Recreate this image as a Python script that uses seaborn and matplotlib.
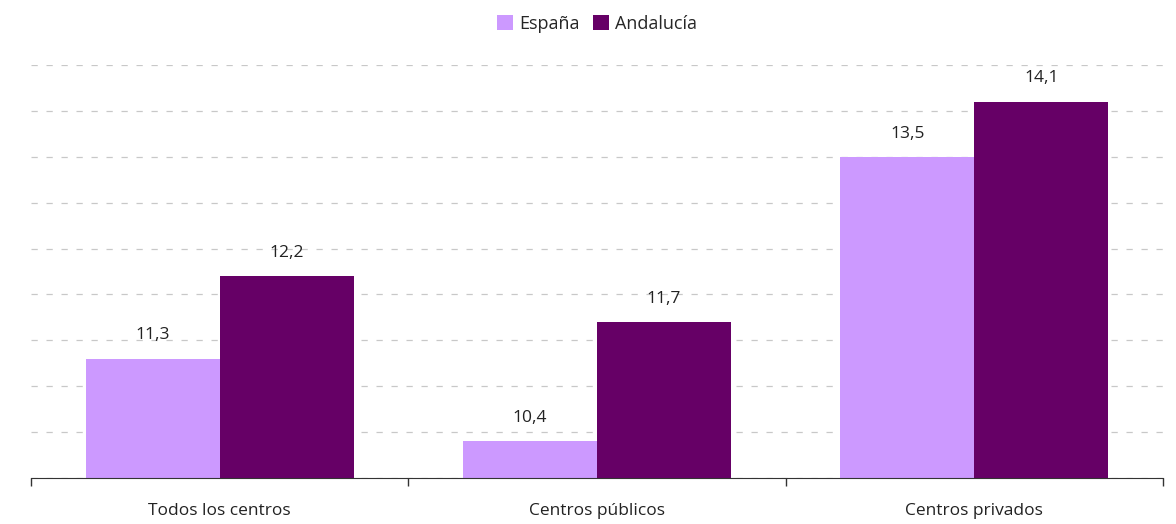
import pandas as pd
import matplotlib.pyplot as plt
import seaborn as sns

categorias = ['Todos los centros', 'Centros públicos', 'Centros privados']
espana = [11.3, 10.4, 13.5]
andalucia = [12.2, 11.7, 14.1]
series = ['España', 'Andalucía']
colores = ['#CC99FF', '#660066']

df = pd.DataFrame({
    'categoria': categorias * 2,
    'valor': espana + andalucia,
    'serie': [series[0]] * 3 + [series[1]] * 3,
})

sns.set_style('white')
plt.rcParams['font.family'] = ['Open Sans', 'DejaVu Sans']

fig = plt.figure(figsize=(11.76, 5.24), dpi=100)
ax = fig.add_axes([31 / 1176, 46 / 524, 1132 / 1176, 413 / 524])

sns.barplot(data=df, x='categoria', y='valor', hue='serie', palette=colores,
            width=0.71, saturation=1, linewidth=0, ax=ax, legend=True)

ax.set_ylim(10, 14.5)
ax.set_xlim(-0.5, 2.5)
ax.set_yticks([10 + 0.5 * i for i in range(10)])
ax.yaxis.grid(True, color='#c8c8c8', linestyle=(0, (5, 7)), linewidth=0.9)
ax.set_axisbelow(True)
ax.tick_params(axis='y', left=False, labelleft=False)

ax.set_xticks(range(3))
ax.set_xticklabels(categorias, fontsize=12.5, color='#222222')
ax.set_xticks([-0.5, 0.5, 1.5, 2.5], minor=True)
ax.tick_params(axis='x', which='major', bottom=False, length=0, pad=18)
ax.tick_params(axis='x', which='minor', bottom=True, length=6, width=1,
               direction='out', color='#333333')

for s in ['top', 'right', 'left']:
    ax.spines[s].set_visible(False)
ax.spines['bottom'].set_color('#333333')
ax.set_xlabel('')
ax.set_ylabel('')

for cont in ax.containers:
    ax.bar_label(cont, labels=[f'{v:.1f}'.replace('.', ',') for v in cont.datavalues],
                 padding=11, fontsize=12.5, color='#222222')

ax.legend(loc='upper center', bbox_to_anchor=(0.5, 1.16), ncol=2, frameon=False,
          fontsize=13, handlelength=0.9, handleheight=0.9, handletextpad=0.35,
          columnspacing=0.7)

fig.savefig('out.png', dpi=100)
